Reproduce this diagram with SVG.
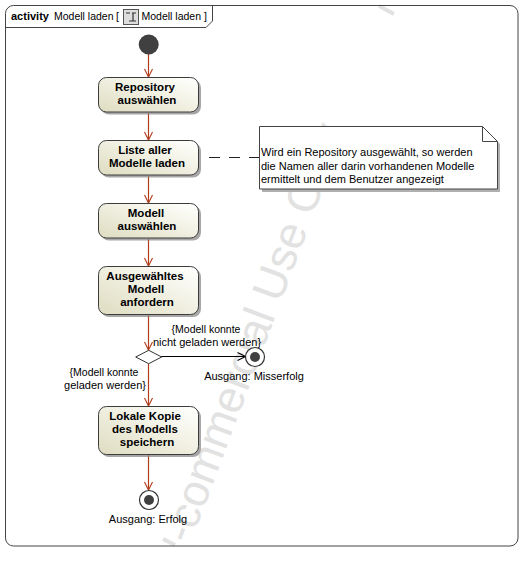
<svg xmlns="http://www.w3.org/2000/svg" width="532" height="561" viewBox="0 0 532 561">
<style>
text{font-family:"Liberation Sans",Arial,sans-serif;font-size:11px;fill:#000}
.b{font-weight:bold;font-size:11.5px;text-anchor:middle}
.m{text-anchor:middle}
.act{fill:url(#g);stroke:#3c3c3c;stroke-width:1}
.sh{fill:#8a8a8a;opacity:.75}
.c{fill:none;stroke:#b03c1a;stroke-width:1.2}
.k{fill:none;stroke:#000;stroke-width:1.2}
.d{fill:#404040}
.t{font-size:10.500px}
</style>
<defs>
<linearGradient id="g" x1="0" y1="1" x2="1" y2="0"><stop offset="0" stop-color="#dedcc0"/><stop offset=".75" stop-color="#f8f8f0"/><stop offset="1" stop-color="#fff"/></linearGradient>
<marker id="a" markerWidth="12" markerHeight="12" refX="9" refY="5" orient="auto" markerUnits="userSpaceOnUse"><path d="M1 1 L9 5 L1 9" fill="none" stroke="#b03c1a" stroke-width="1.1"/></marker>
<marker id="ak" markerWidth="12" markerHeight="12" refX="9" refY="5" orient="auto" markerUnits="userSpaceOnUse"><path d="M1 1 L9 5 L1 9" fill="none" stroke="#000" stroke-width="1.1"/></marker>
</defs>
<rect width="532" height="561" fill="#fff"/>
<g id="watermark">
<text transform="translate(190,545) rotate(-69.500)" style="font-size:45px;fill:#e2e2e2">-commercial Use Only</text>
<path d="M163 539L175 545M379 6L394 14" fill="none" stroke="#e2e2e2" stroke-width="4"/>
</g>
<g id="frame">
<rect x="5.500" y="5.500" width="512.500" height="540.500" rx="8" fill="none" stroke="#444"/>
<path d="M5.500 27.500H206L212.500 21V5.500" fill="none" stroke="#444"/>
<text x="11" y="20" style="font-weight:bold">activity</text>
<text class="t" x="54" y="20">Modell laden</text>
<text class="t" x="116" y="20">[</text>
<g id="icon"><rect x="123.500" y="9.500" width="15" height="15" fill="#ddd" stroke="#555"/><path d="M126 13h4M132 13h4M133 13v8M129 21h7" fill="none" stroke="#333" stroke-width="1.200"/></g>
<text class="t" x="141.500" y="20">Modell laden</text>
<text class="t" x="204" y="20">]</text>
</g>
<g id="connectors">
<path class="c" d="M148.500 54V77" marker-end="url(#a)"/>
<path class="c" d="M148.500 113V140" marker-end="url(#a)"/>
<path class="c" d="M148.500 176V203" marker-end="url(#a)"/>
<path class="c" d="M148.500 239V266" marker-end="url(#a)"/>
<path class="c" d="M148.500 315V350" marker-end="url(#a)"/>
<path class="c" d="M148.500 364V406" marker-end="url(#a)"/>
<path class="c" d="M148.500 455V490" marker-end="url(#a)"/>
<path class="k" d="M161 356.500H245.500" marker-end="url(#ak)"/>
<path d="M209 157.500H259" fill="none" stroke="#222" stroke-dasharray="11 9"/>
</g>
<g id="start"><circle class="d" cx="148.700" cy="44.500" r="10"/></g>
<g id="n1"><rect class="sh" x="101" y="80" width="100" height="34.500" rx="8"/><rect class="act" x="98.500" y="77.500" width="100" height="34.500" rx="8"/><text class="b" x="145" y="91">Repository</text><text class="b" x="147" y="104">auswählen</text></g>
<g id="n2"><rect class="sh" x="101" y="143" width="100" height="34.500" rx="8"/><rect class="act" x="98.500" y="140.500" width="100" height="34.500" rx="8"/><text class="b" x="145" y="154">Liste aller</text><text class="b" x="147" y="167">Modelle laden</text></g>
<g id="n3"><rect class="sh" x="101" y="206" width="100" height="34.500" rx="8"/><rect class="act" x="98.500" y="203.500" width="100" height="34.500" rx="8"/><text class="b" x="146" y="217">Modell</text><text class="b" x="147" y="230">auswählen</text></g>
<g id="n4"><rect class="sh" x="101" y="269" width="100" height="48" rx="8"/><rect class="act" x="98.500" y="266.500" width="100" height="48" rx="8"/><text class="b" x="145" y="280">Ausgewähltes</text><text class="b" x="146" y="293">Modell</text><text class="b" x="147" y="306">anfordern</text></g>
<g id="n5"><rect class="sh" x="101" y="409" width="100" height="48" rx="8"/><rect class="act" x="98.500" y="406.500" width="100" height="48" rx="8"/><text class="b" x="145" y="420">Lokale Kopie</text><text class="b" x="145" y="433">des Modells</text><text class="b" x="147" y="446">speichern</text></g>
<g id="decision"><path d="M135.700 357L148.700 350.300L161.700 357L148.700 363.700Z" fill="#fff" stroke="#333"/></g>
<g id="end1"><circle cx="149" cy="500" r="9.500" fill="#fff" stroke="#333" stroke-width="1.200"/><circle class="d" cx="149" cy="500" r="5"/><text class="m" x="148" y="523">Ausgang: Erfolg</text></g>
<g id="end2"><circle cx="255" cy="357" r="9.500" fill="#fff" stroke="#333" stroke-width="1.200"/><circle class="d" cx="255" cy="357" r="5"/><text class="m" x="254" y="380">Ausgang: Misserfolg</text></g>
<g id="guard1"><text class="m t" x="206" y="333">{Modell konnte</text><text class="m" x="207" y="346">nicht geladen werden}</text></g>
<g id="guard2"><text class="m t" x="104" y="376">{Modell konnte</text><text class="m" x="105" y="389">geladen werden}</text></g>
<g id="note">
<path d="M262 129H485L500 144V192H262Z" fill="#b0b0b0"/>
<path d="M259.500 126.500H482.500L497.500 141.500V189H259.500Z" fill="#fff" stroke="#444"/>
<path d="M482.500 126.500V141.500H497.500" fill="none" stroke="#444"/>
<text x="261" y="156">Wird ein Repository ausgewählt, so werden</text>
<text x="261" y="170">die Namen aller darin vorhandenen Modelle</text>
<text x="261" y="183">ermittelt und dem Benutzer angezeigt</text>
</g>
</svg>
